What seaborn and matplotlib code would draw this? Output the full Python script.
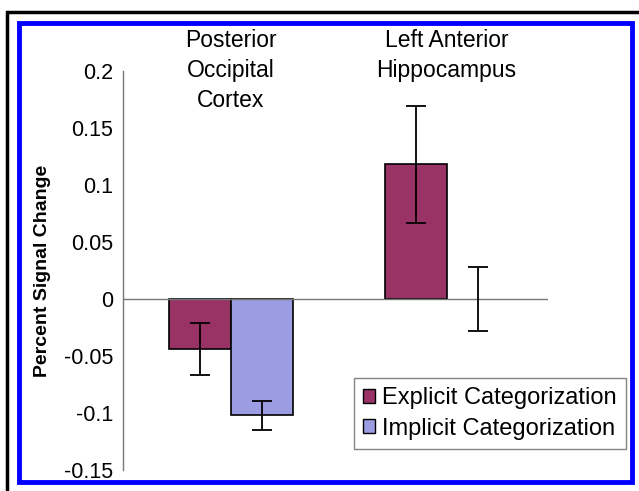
import matplotlib
matplotlib.use("Agg")
import matplotlib.pyplot as plt
import matplotlib.patches as mpatches
import seaborn as sns
import pandas as pd

# values
regions = ["Posterior\nOccipital\nCortex", "Left Anterior\nHippocampus"]
conditions = ["Explicit Categorization", "Implicit Categorization"]
explicit_mean = [-0.044, 0.118]
implicit_mean = [-0.102, 0.0]
explicit_err = [0.023, 0.051]
implicit_err = [0.0125, 0.028]
colors = ["#993366", "#9c9ce2"]
yticks = [-0.15, -0.1, -0.05, 0, 0.05, 0.1, 0.15, 0.2]
ytick_labels = ["-0.15", "-0.1", "-0.05", "0", "0.05", "0.1", "0.15", "0.2"]

df = pd.DataFrame({
    "Region": regions * 2,
    "Condition": [conditions[0]] * 2 + [conditions[1]] * 2,
    "Value": explicit_mean + implicit_mean,
})

sns.set_style("white")
plt.rcParams["font.family"] = ["Liberation Sans", "DejaVu Sans"]
plt.rcParams["text.color"] = "black"
plt.rcParams["axes.labelcolor"] = "black"

fig = plt.figure(figsize=(6.39, 4.91), dpi=100)
ax = fig.add_axes([0.1925, 0.0428, 0.665, 0.8126])

sns.barplot(data=df, x="Region", y="Value", hue="Condition", palette=colors,
            saturation=1, width=0.574, edgecolor="black", linewidth=1.2,
            errorbar=None, ax=ax, legend=False)

# error bars at the centres of the drawn bars
for container, errs in zip(ax.containers, [explicit_err, implicit_err]):
    for bar, e in zip(container, errs):
        xc = bar.get_x() + bar.get_width() / 2
        yv = bar.get_y() + bar.get_height()
        if bar.get_height() == 0:
            bar.set_linewidth(0)
        ax.errorbar(xc, yv, yerr=e, color="black", capsize=7, elinewidth=1.3,
                    capthick=1.3, zorder=5)

ax.set_ylim(-0.15, 0.2)
ax.set_xlim(-0.5, 1.47)
ax.set_yticks(yticks)
ax.set_yticklabels(ytick_labels, fontsize=15.5)
ax.tick_params(axis="y", direction="out", length=5, color="#777777", width=1, pad=2,
               labelcolor="black")
ax.set_xticks([])
ax.set_xlabel("")
ax.set_ylabel("Percent Signal Change", fontsize=14, fontweight="bold", labelpad=9)

for s in ["top", "right", "bottom"]:
    ax.spines[s].set_visible(False)
ax.spines["left"].set_color("#777777")
ax.spines["left"].set_linewidth(1)
ax.axhline(0, color="#777777", linewidth=1, zorder=1)

# region names above the plot
for i, name in enumerate(regions):
    ax.text(i, 1.105, name, transform=ax.get_xaxis_transform(), ha="center",
            va="top", fontsize=16.5, linespacing=1.38)

handles = [mpatches.Patch(facecolor=c, edgecolor="black", label=l)
           for c, l in zip(colors, conditions)]
leg = ax.legend(handles=handles, loc="lower right", bbox_to_anchor=(1.1835, 0.0526),
                fontsize=17, frameon=True, fancybox=False, handlelength=0.5,
                handleheight=0.5, handletextpad=0.3, borderpad=0.4,
                labelspacing=0.35, borderaxespad=0)
leg.get_frame().set_edgecolor("#666666")
leg.get_frame().set_linewidth(1)

# figure borders
fig.patches.append(mpatches.Rectangle((7 / 639, -0.05), 1.2, 1 - 12 / 491 + 0.05,
                                      transform=fig.transFigure, fill=False,
                                      edgecolor="black", linewidth=2.5))
fig.patches.append(mpatches.Rectangle((19 / 639, 1 - 482 / 491), 613 / 639, 459 / 491,
                                      transform=fig.transFigure, fill=False,
                                      edgecolor="#0000ff", linewidth=3.5))

fig.savefig("out.png", dpi=100)
